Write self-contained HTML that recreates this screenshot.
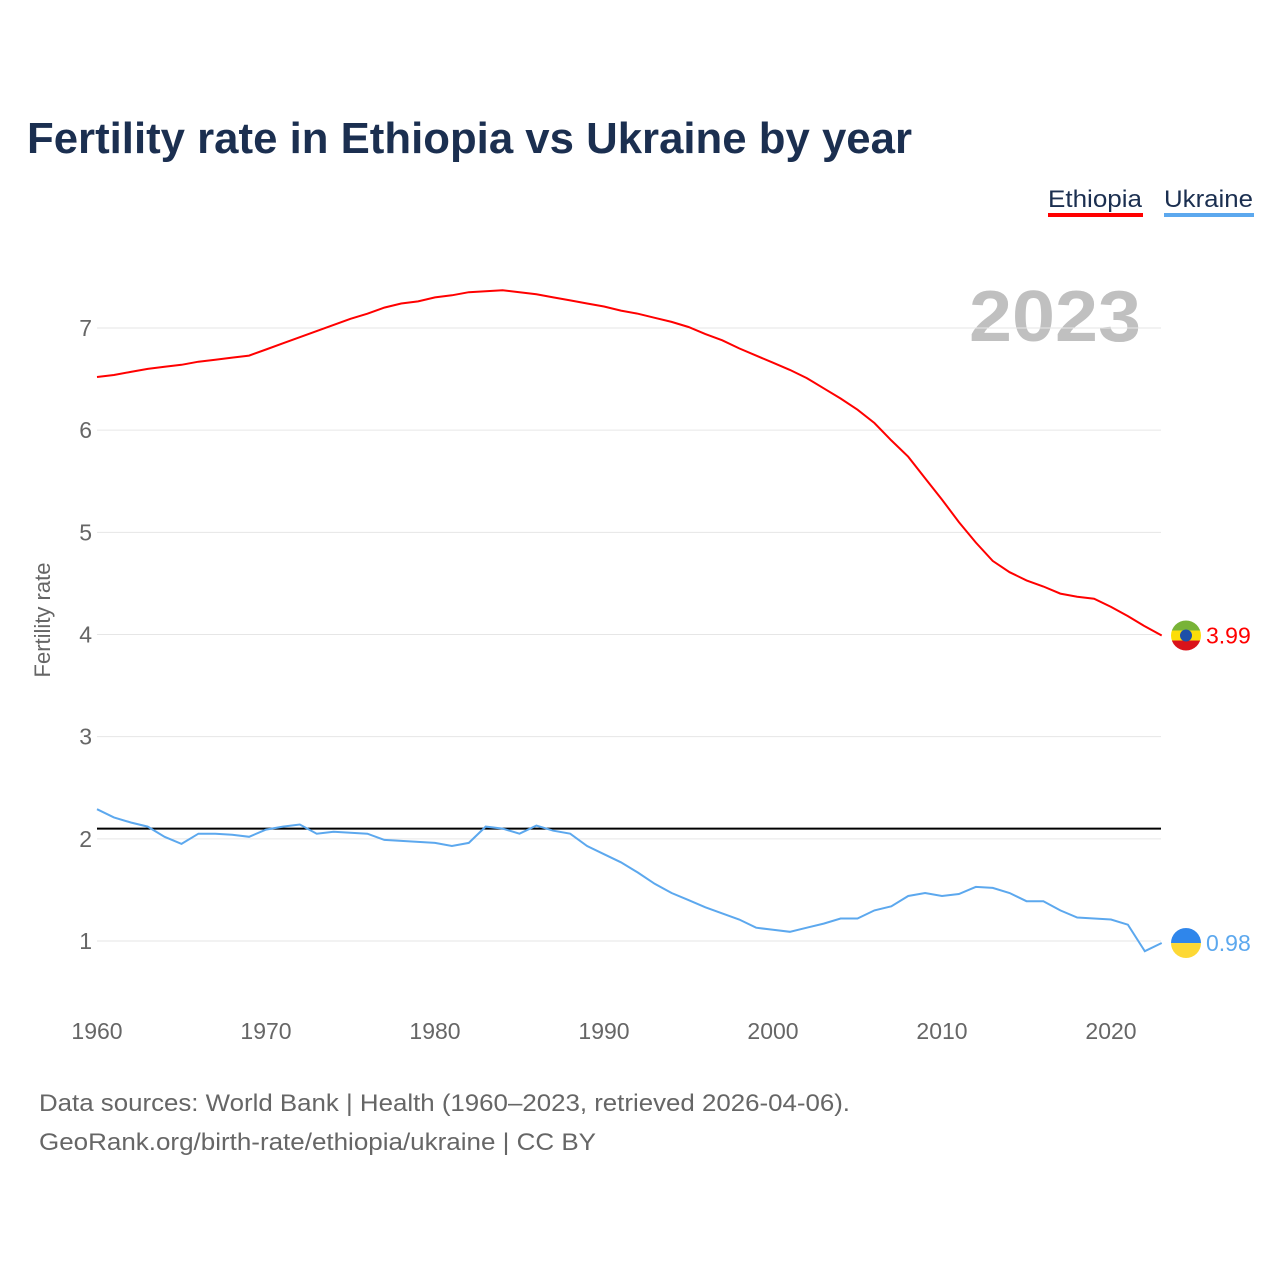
<!DOCTYPE html>
<html><head><meta charset="utf-8">
<style>
body{margin:0;background:#fff;width:1280px;height:1280px;overflow:hidden;font-family:"Liberation Sans",sans-serif}
</style></head>
<body>
<svg id="chart" width="1280" height="1280" xmlns="http://www.w3.org/2000/svg">
<text x="27" y="153" font-size="44" font-weight="bold" fill="#1b2f50" textLength="885" lengthAdjust="spacingAndGlyphs">Fertility rate in Ethiopia vs Ukraine by year</text>
<g><text x="1048" y="207" font-size="24" fill="#1b2f50" textLength="94" lengthAdjust="spacingAndGlyphs">Ethiopia</text><rect x="1048" y="213" width="95" height="4" fill="#f00"/></g>
<g><text x="1164" y="207" font-size="24" fill="#1b2f50" textLength="89" lengthAdjust="spacingAndGlyphs">Ukraine</text><rect x="1164" y="213" width="90" height="4" fill="#5ca8ee"/></g>
<text x="969" y="341" font-size="72" font-weight="bold" fill="#c0c0c0" textLength="172" lengthAdjust="spacingAndGlyphs">2023</text>
<text transform="translate(50,620) rotate(-90)" font-size="22" fill="#666" text-anchor="middle">Fertility rate</text>
<g id="grid"></g><g id="series"></g>
<text x="39" y="1111" font-size="24" fill="#666" textLength="811" lengthAdjust="spacingAndGlyphs">Data sources: World Bank | Health (1960–2023, retrieved 2026-04-06).</text>
<text x="39" y="1150" font-size="24" fill="#666" textLength="557" lengthAdjust="spacingAndGlyphs">GeoRank.org/birth-rate/ethiopia/ukraine | CC BY</text>
</svg>
<script>
const years=[];for(let y=1960;y<=2023;y++)years.push(y);
const ethiopia=[6.52,6.54,6.57,6.60,6.62,6.64,6.67,6.69,6.71,6.73,6.79,6.85,6.91,6.97,7.03,7.09,7.14,7.20,7.24,7.26,7.30,7.32,7.35,7.36,7.37,7.35,7.33,7.30,7.27,7.24,7.21,7.17,7.14,7.10,7.06,7.01,6.94,6.88,6.80,6.73,6.66,6.59,6.51,6.41,6.31,6.20,6.07,5.90,5.74,5.53,5.32,5.10,4.90,4.72,4.61,4.53,4.47,4.40,4.37,4.35,4.27,4.18,4.08,3.99];
const ukraine=[2.29,2.21,2.16,2.12,2.02,1.95,2.05,2.05,2.04,2.02,2.09,2.12,2.14,2.05,2.07,2.06,2.05,1.99,1.98,1.97,1.96,1.93,1.96,2.12,2.10,2.05,2.13,2.08,2.05,1.93,1.85,1.77,1.67,1.56,1.47,1.40,1.33,1.27,1.21,1.13,1.11,1.09,1.13,1.17,1.22,1.22,1.30,1.34,1.44,1.47,1.44,1.46,1.53,1.52,1.47,1.39,1.39,1.30,1.23,1.22,1.21,1.16,0.90,0.98];
const yTicks=[1,2,3,4,5,6,7];
const xTicks=[1960,1970,1980,1990,2000,2010,2020];
const refValue=2.1;
const NS="http://www.w3.org/2000/svg";
const xs=y=>97+(y-1960)*(1014/60);
const ys=v=>941-(v-1)*(613/6);
function mk(tag,attrs,parent){const e=document.createElementNS(NS,tag);for(const k in attrs)e.setAttribute(k,attrs[k]);parent.appendChild(e);return e;}
const grid=document.getElementById('grid'),ser=document.getElementById('series');
yTicks.forEach(v=>{
 const l=mk('line',{x1:97,x2:1161,y1:ys(v),y2:ys(v),stroke:'#e6e6e6','stroke-width':1},grid);
 
 
 const t=mk('text',{x:92,y:ys(v)+8,'font-size':23,fill:'#666','text-anchor':'end'},grid);t.textContent=v;
 
 
});
xTicks.forEach(v=>{
 const t=mk('text',{x:xs(v),y:1039,'font-size':23,fill:'#666','text-anchor':'middle'},grid);t.textContent=v;
 
 
});
const ref=mk('line',{x1:97,x2:1161,y1:ys(refValue),y2:ys(refValue),stroke:'#000','stroke-width':2},ser);


function line(data,color,name){
 const d=data.map((v,i)=>(i?'L':'M')+xs(years[i]).toFixed(1)+','+ys(v).toFixed(1)).join('');
 const p=mk('path',{d:d,fill:'none',stroke:color,'stroke-width':2},ser);
 
 
}
line(ethiopia,'#f00','ethiopia');
line(ukraine,'#5ca8ee','ukraine');
function flag(v,top,mid,bot,name){
 const cx=1186,cy=ys(v);const g=mk('g',{},ser);
 
 
 mk('clipPath',{id:'c'+name},g).appendChild(document.createElementNS(NS,'circle')).setAttribute('r',15);
 const cp=g.querySelector('clipPath circle');cp.setAttribute('cx',cx);cp.setAttribute('cy',cy);
 const gg=mk('g',{'clip-path':'url(#c'+name+')'},g);
 if(mid){mk('rect',{x:cx-15,y:cy-15,width:30,height:10,fill:top},gg);mk('rect',{x:cx-15,y:cy-5,width:30,height:10,fill:mid},gg);mk('rect',{x:cx-15,y:cy+5,width:30,height:10,fill:bot},gg);mk('circle',{cx:cx,cy:cy,r:6,fill:'#1d4fa8'},gg);}
 else{mk('rect',{x:cx-15,y:cy-15,width:30,height:15,fill:top},gg);mk('rect',{x:cx-15,y:cy,width:30,height:15,fill:bot},gg);}
}
flag(ethiopia[ethiopia.length-1],'#78b337','#fcdd09','#da121a','ethiopia');
flag(ukraine[ukraine.length-1],'#2f86eb','','#fdd835','ukraine');
[[ethiopia,'#f00','ethiopia'],[ukraine,'#5ca8ee','ukraine']].forEach(([d,c,n])=>{
 const v=d[d.length-1];const t=mk('text',{x:1206,y:ys(v)+8,'font-size':23,fill:c},ser);t.textContent=v.toFixed(2);
 
 
});
</script>
</body></html>
